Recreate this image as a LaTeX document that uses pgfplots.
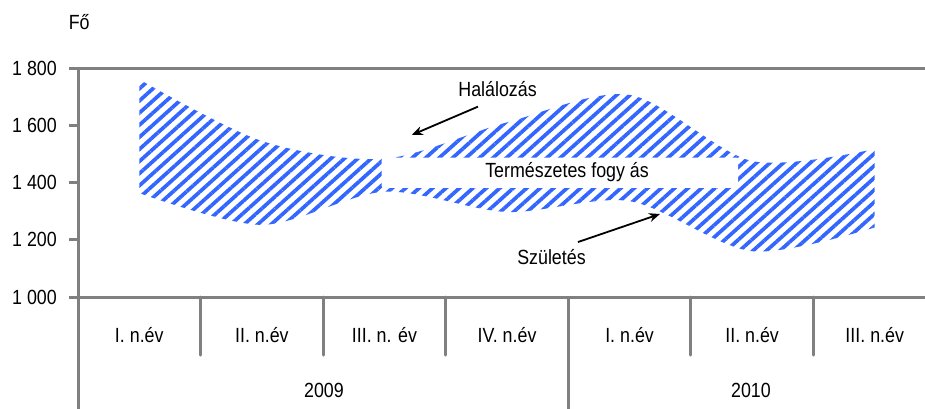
\documentclass[border=0pt]{standalone}
\usepackage{pgfplots}
\pgfplotsset{compat=1.18}
\usepgfplotslibrary{fillbetween}
\usetikzlibrary{patterns.meta,arrows.meta}
\usepackage{fontspec}
\setmainfont{Liberation Sans}[FakeStretch=0.87]
\definecolor{stripe}{RGB}{51,102,255}
\definecolor{axgray}{RGB}{128,128,128}
\newcommand{\lbl}{\fontsize{20.5}{23}\selectfont}

\begin{document}
\begin{tikzpicture}
\begin{axis}[
  at={(0,0)}, anchor=south west,
  scale only axis, width=858pt, height=229pt,
  xmin=-0.5, xmax=6.5, ymin=1000, ymax=1800,
  clip=false,
  axis line style={draw=none},
  xtick=\empty,
  ytick={1000,1200,1400,1600,1800},
  yticklabels={1 000,1 200,1 400,1 600,1 800},
  ytick pos=left,
  tick align=outside,
  major tick length=9pt,
  tick style={axgray, line width=3pt},
  yticklabel style={font=\lbl, anchor=east, inner sep=0pt, xshift=-12pt},
]
\addplot[name path=up, draw=none, smooth] coordinates {(0,1760) (1,1545) (2,1483) (3,1610) (4,1706) (5,1475) (6,1517)};
\addplot[name path=lo, draw=none, smooth] coordinates {(0,1363) (1,1252) (2,1368) (3,1297) (4,1335) (5,1160) (6,1243)};
\addplot[pattern={Lines[angle=42,distance=9pt,line width=3.7pt]}, pattern color=stripe, draw=none] fill between[of=up and lo];

% white label box
\fill[white, rounded corners=2pt] (axis cs:1.978,1381) rectangle (axis cs:4.885,1487);
\node[font=\lbl] at (axis cs:3.49,1437) {Természetes fogy ás};

% annotations
\node[font=\lbl] at (axis cs:2.923,1728) {Halálozás};
\draw[black, line width=1.8pt, -{Stealth[length=11pt,width=9pt]}] (axis cs:2.763,1665) -- (axis cs:2.223,1566);
\node[font=\lbl] at (axis cs:3.363,1141) {Születés};
\draw[black, line width=1.8pt, -{Stealth[length=11pt,width=9pt]}] (axis cs:3.579,1192) -- (axis cs:4.248,1290);

% axis frame lines
\draw[axgray, line width=3pt] (axis cs:-0.5,1800) -- (axis cs:6.6,1800);
\draw[axgray, line width=3pt] (axis cs:-0.5,1000) -- (axis cs:6.6,1000);
\draw[axgray, line width=3pt] (axis cs:-0.5,1800) -- (axis cs:-0.5,600);
\draw[axgray, line width=3pt, line cap=round] (axis cs:0.5,1000) -- (axis cs:0.5,797);
\draw[axgray, line width=3pt, line cap=round] (axis cs:1.5,1000) -- (axis cs:1.5,797);
\draw[axgray, line width=3pt, line cap=round] (axis cs:2.5,1000) -- (axis cs:2.5,797);
\draw[axgray, line width=3pt, line cap=round] (axis cs:4.5,1000) -- (axis cs:4.5,797);
\draw[axgray, line width=3pt, line cap=round] (axis cs:5.5,1000) -- (axis cs:5.5,797);
\draw[axgray, line width=3pt] (axis cs:3.5,1000) -- (axis cs:3.5,600);

% category labels
\node[font=\lbl] at (axis cs:0,866) {I. n.év};
\node[font=\lbl] at (axis cs:1,866) {II. n.év};
\node[font=\lbl] at (axis cs:2,866) {III. n. év};
\node[font=\lbl] at (axis cs:3,866) {IV. n.év};
\node[font=\lbl] at (axis cs:4,866) {I. n.év};
\node[font=\lbl] at (axis cs:5,866) {II. n.év};
\node[font=\lbl] at (axis cs:6,866) {III. n.év};
\node[font=\lbl] at (axis cs:1.507,675) {2009};
\node[font=\lbl] at (axis cs:4.99,675) {2010};
\node[font=\lbl] at (axis cs:-0.49,1961) {Fő};
\end{axis}
\pgfresetboundingbox
\path[use as bounding box] (-78pt,-111pt) rectangle (847pt,297pt);
\end{tikzpicture}
\end{document}
